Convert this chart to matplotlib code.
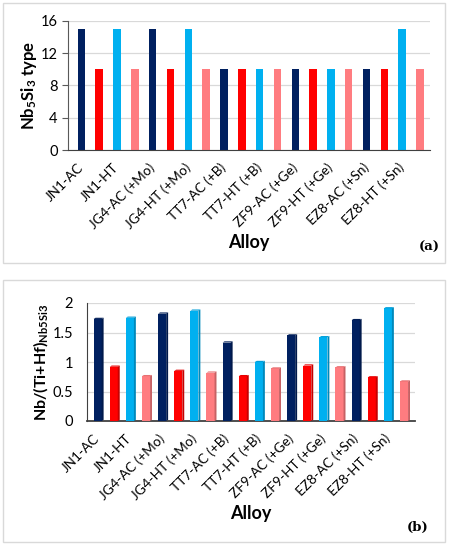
import numpy as np
import matplotlib
matplotlib.use('Agg')
import matplotlib.pyplot as plt
import matplotlib.colors as mcolors
import matplotlib.transforms as mtransforms
from matplotlib.patches import Rectangle

plt.rcParams['font.family'] = ['Lato', 'DejaVu Sans']
plt.rcParams['mathtext.fontset'] = 'custom'
plt.rcParams['mathtext.rm'] = 'Lato'
plt.rcParams['mathtext.bf'] = 'Lato:bold'

alloys = ['JN1-AC', 'JN1-HT', 'JG4-AC (+Mo)', 'JG4-HT (+Mo)', 'TT7-AC (+B)',
          'TT7-HT (+B)', 'ZF9-AC (+Ge)', 'ZF9-HT (+Ge)', 'EZ8-AC (+Sn)', 'EZ8-HT (+Sn)']
# two bars per alloy -> 20 categories on the axis, labels on every other one
nb5si3_type = [15, 10, 15, 10, 15, 10, 15, 10, 10, 10,
               10, 10, 10, 10, 10, 10, 10, 10, 15, 10]
nb_ratio = [1.73, 0.92, 1.75, 0.76, 1.82, 0.85, 1.87, 0.82, 1.33, 0.76,
            1.00, 0.89, 1.45, 0.94, 1.42, 0.91, 1.71, 0.74, 1.91, 0.67]
palette = ['#002060', '#FF0000', '#00B0F0', '#FF7C80']

x = np.arange(len(nb5si3_type))
colors = [palette[i % 4] for i in x]

fig = plt.figure(figsize=(4.49, 5.5), dpi=100)

# panel frames
for y0, h in [(3, 260), (280, 262)]:
    fig.patches.append(Rectangle((3 / 449, 1 - (y0 + h) / 550), 442 / 449, h / 550,
                                 transform=fig.transFigure, fill=False,
                                 edgecolor='#D9D9D9', lw=1))


def style_axes(ax, xlim, shift_px):
    ax.set_xlim(*xlim)
    ax.set_xticks(x[::2])
    ax.set_xticklabels(alloys, rotation=45, ha='right', va='center',
                       rotation_mode='anchor', fontsize=9.8)
    shift = mtransforms.ScaledTranslation(shift_px / 100, 0, fig.dpi_scale_trans)
    for lab in ax.get_xticklabels():
        lab.set_transform(lab.get_transform() + shift)
    ax.tick_params(axis='x', length=0, pad=11)
    ax.tick_params(axis='y', labelsize=10.5)
    ax.yaxis.grid(True, color='#D9D9D9', lw=0.9)
    ax.set_axisbelow(True)
    for s in ['top', 'right']:
        ax.spines[s].set_visible(False)
    ax.spines['left'].set_color('#595959')
    ax.spines['bottom'].set_color('#404040')
    ax.set_xlabel('Alloy', fontsize=13, fontweight='bold', labelpad=2)


# (a)
ax1 = fig.add_axes([68 / 449, 400 / 550, 362 / 449, 129.3 / 550])
ax1.bar(x, nb5si3_type, width=0.42, color=colors)
ax1.set_ylim(0, 16)
ax1.set_yticks([0, 4, 8, 12, 16])
style_axes(ax1, (-0.75, 19.56), -5)
ax1.tick_params(axis='y', length=4, color='#595959')
ax1.set_ylabel(r'$\mathbf{Nb_5Si_3}$ type', fontsize=12, fontweight='bold', labelpad=1)
fig.text(440 / 449, 1 - 247 / 550, '(a)', family='DejaVu Serif', fontweight='bold',
         fontsize=9.5, ha='right', va='center')

# (b) pseudo 3D bars
ax2 = fig.add_axes([87 / 449, 129 / 550, 328 / 449, 118 / 550])
w = 0.5
d = 0.12
dy = 0.02
ax2.bar(x, nb_ratio, width=w, color=colors, zorder=3)
for xi, v, c in zip(x, nb_ratio, colors):
    side = np.array(mcolors.to_rgb(c)) * 0.78
    top = np.array(mcolors.to_rgb(c)) * 0.9
    ax2.fill([xi + w / 2, xi + w / 2 + d, xi + w / 2 + d, xi + w / 2],
             [0, dy, v + dy, v], color=side, zorder=3, lw=0)
    ax2.fill([xi - w / 2, xi - w / 2 + d, xi + w / 2 + d, xi + w / 2],
             [v, v + dy, v + dy, v], color=top, zorder=3, lw=0)
ax2.set_ylim(0, 2)
ax2.set_yticks([0, 0.5, 1, 1.5, 2])
ax2.set_yticklabels(['0', '0.5', '1', '1.5', '2'])
style_axes(ax2, (-0.66, 19.68), -1)
ax2.tick_params(axis='y', length=0, pad=10)
ax2.spines['left'].set_color('#404040')
ax2.spines['bottom'].set_linewidth(1.3)
ax2.set_ylabel(r'Nb/(Ti+Hf)$_{\mathbf{Nb5Si3}}$', fontsize=11.5, fontweight='bold',
               labelpad=1)
fig.text(428 / 449, 1 - 527 / 550, '(b)', family='DejaVu Serif', fontweight='bold',
         fontsize=9.5, ha='right', va='center')

fig.savefig('out.png', dpi=100)
